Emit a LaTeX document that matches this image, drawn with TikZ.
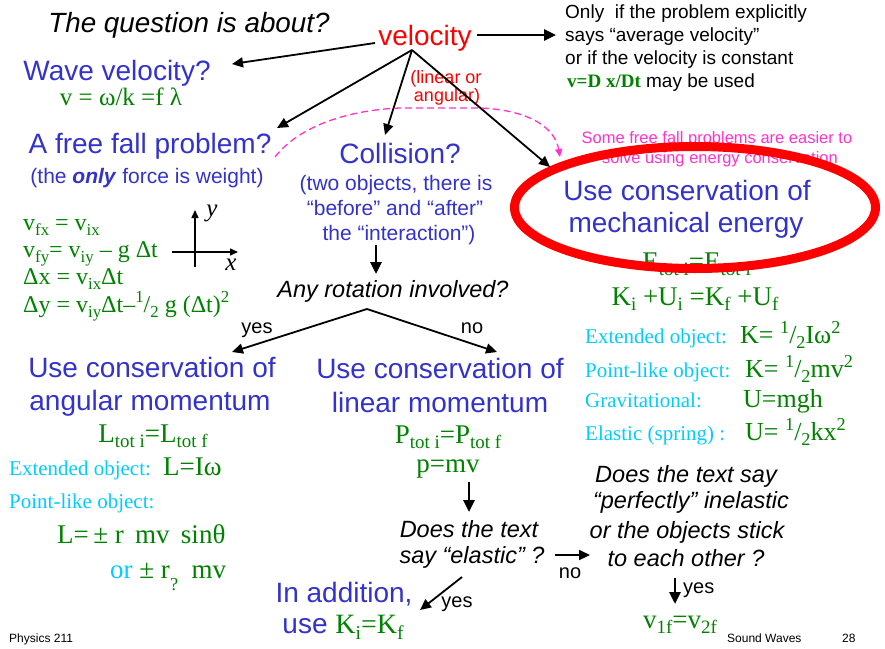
\documentclass[tikz,border=0pt]{standalone}
\usepackage{fontspec}
\setmainfont{Liberation Sans}
\newfontfamily\tnr{Liberation Serif}
\usetikzlibrary{arrows.meta,shapes.geometric}
\definecolor{tblue}{RGB}{51,51,204}
\definecolor{tgreen}{RGB}{0,130,0}
\definecolor{tcyan}{RGB}{0,204,255}
\definecolor{tmag}{RGB}{255,51,204}
\newcommand{\lo}[1]{\raisebox{-0.22em}{\scalebox{0.7}{#1}}}
\newcommand{\hi}[1]{\raisebox{0.38em}{\scalebox{0.7}{#1}}}
\newcommand{\dlo}[1]{\raisebox{-0.45em}{\scalebox{0.68}{#1}}}
\tikzset{
  fz/.style={inner sep=0, font=\fontsize{#1}{#1}\selectfont},
  hd/.style={inner sep=0, anchor=base, text=tblue, font=\fontsize{28}{28}\selectfont},
  qs/.style={inner sep=0, anchor=base, font=\fontsize{23.5}{23.5}\selectfont\itshape},
  frm/.style={inner sep=0, text=tgreen, font=\tnr\fontsize{#1}{#1}\selectfont},
  lab/.style={inner sep=0, text=tcyan, anchor=base west, font=\tnr\fontsize{21}{21}\selectfont},
  sm/.style={inner sep=0, anchor=base west, font=\fontsize{12}{12}\selectfont},
  arr/.style={-{Triangle[length=11pt,width=10pt]}, line width=1.8pt},
  tarr/.style={-{Triangle[length=12pt,width=11pt]}, line width=2.8pt},
  axarr/.style={-{Triangle[length=8pt,width=7pt]}, line width=1.5pt},
}
\begin{document}
\begin{tikzpicture}[x=1pt,y=-1pt]
\useasboundingbox (0,0) rectangle (885,648);
\fill[white] (0,0) rectangle (885,648);

% header
\node[inner sep=0, font=\fontsize{27.8}{27.8}\selectfont\itshape, anchor=base] (tq) at (189,32) {The question is about?};
\node[fz=28, text=red, anchor=base] (vel) at (425,45) {velocity};
\node[fz=19, anchor=base west] (n1) at (565,18.5) {Only\ \ if the problem explicitly};
\node[fz=19, anchor=base west] (n2) at (565,41.5) {says “average velocity”};
\node[fz=19, anchor=base west] (n3) at (565,64) {or if the velocity is constant};
\node[fz=19, anchor=base west] (n4) at (567,87) {{\tnr\bfseries\fontsize{19}{19}\selectfont\color{tgreen}v=D x/Dt} may be used};
\node[fz=18, text=red, anchor=base] (lin1) at (446,83) {(linear or};
\node[fz=18, text=red, anchor=base] (lin2) at (447,101) {angular)};

% wave velocity
\node[hd] (wv) at (117,80) {Wave velocity?};
\node[frm=25, anchor=base] (wvf) at (121,105) {v = ω/k =f λ};

% free fall
\node[hd] (ff) at (150,153) {A free fall problem?};
\node[fz=21, text=tblue, anchor=base] (ffs) at (147,183) {(the \textbf{\textit{only}} force is weight)};
\node[frm=24, anchor=base west] (f1) at (23,230) {v\lo{fx} = v\lo{ix}};
\node[frm=24, anchor=base west] (f2) at (23,257) {v\lo{fy}= v\lo{iy} – g Δt};
\node[frm=24, anchor=base west] (f3) at (23,284) {Δx = v\lo{ix}Δt};
\node[frm=24, anchor=base west] (f4) at (23,312) {Δy = v\lo{iy}Δt–\hi{1}/\lo{2} g (Δt)\hi{2}};
\coordinate (ay0) at (195,267);
\coordinate (ay1) at (195,210);
\coordinate (ax0) at (172,252);
\coordinate (ax1) at (238,252);
\draw[axarr] (ay0) -- (ay1);
\draw[axarr] (ax0) -- (ax1);
\node[inner sep=0, font=\tnr\itshape\fontsize{25}{25}\selectfont] (ly) at (212,213) {y};
\node[inner sep=0, font=\tnr\itshape\fontsize{25}{25}\selectfont] (lx) at (231,265) {x};

% collision
\node[hd] (col) at (400,163) {Collision?};
\node[fz=21, text=tblue, anchor=base] (c1) at (396,190) {(two objects, there is};
\node[fz=21, text=tblue, anchor=base] (c2) at (395,215) {“before” and “after”};
\node[fz=21, text=tblue, anchor=base] (c3) at (399,240) {the “interaction”)};
\node[qs] (rot) at (393,297) {Any rotation involved?};
\coordinate (c3b) at (376,245);
\coordinate (rott) at (376,274);
\draw[tarr] (c3b) -- (rott);
\coordinate (peak) at (367,309);
\coordinate (angtip) at (232,352);
\coordinate (lintip) at (497,352);
\draw[arr] (peak) -- (angtip);
\draw[arr] (peak) -- (lintip);
\node[fz=20, anchor=base] (yes1) at (257,333) {yes};
\node[fz=20, anchor=base] (no1) at (472,333) {no};

% angular momentum
\node[hd] (am1) at (152,377) {Use conservation of};
\node[hd] (am2) at (150,410) {angular momentum};
\node[frm=27, anchor=base] (amf) at (153,442) {L\lo{tot i}=L\lo{tot f}};
\node[lab] (ae) at (9,475) {Extended object:};
\node[frm=27, anchor=base west] (aef) at (163,475) {L=Iω};
\node[lab] (ap) at (9,508) {Point-like object:};
\node[frm=27, anchor=base west] (apf) at (57,543) {L=\,± r\, mv\, sinθ};
\node[frm=27, anchor=base west] (apf2) at (110,578) {{\color{tcyan}or} ± r\dlo{?}\ \ mv};

% linear momentum
\node[hd] (lm1) at (440,378) {Use conservation of};
\node[hd] (lm2) at (440,412) {linear momentum};
\node[frm=27, anchor=base] (lmf) at (448,443) {P\lo{tot i}=P\lo{tot f}};
\node[frm=27, anchor=base] (pmv) at (448,472) {p=mv};
\coordinate (pmvb) at (469,482);
\coordinate (elt) at (469,512);
\draw[tarr] (pmvb) -- (elt);
\node[qs] (el1) at (469,537) {Does the text};
\node[qs] (el2) at (472,563) {say “elastic” ?};
\coordinate (elr) at (555,555);
\coordinate (pil) at (590,555);
\draw[-{Triangle[length=11pt,width=10pt]}, line width=2.2pt] (elr) -- (pil);
\node[fz=20, anchor=base] (no2) at (570,578) {no};
\coordinate (elb) at (462,577);
\coordinate (iat) at (420,610);
\draw[arr] (elb) -- (iat);
\node[fz=20, anchor=base] (yes2) at (457,607) {yes};
\node[hd] (ia1) at (344,602) {In addition,};
\node[hd] (ia2) at (343,633) {use {\tnr\color{tgreen}K\lo{i}=K\lo{f}}};

% perfectly inelastic
\node[qs] (pi1) at (686,482) {Does the text say};
\node[qs] (pi2) at (691,508) {“perfectly” inelastic};
\node[qs] (pi3) at (687,538) {or the objects stick};
\node[qs] (pi4) at (686,566) {to each other ?};
\coordinate (pib) at (675,578);
\coordinate (vft) at (675,604);
\draw[tarr] (pib) -- (vft);
\node[fz=20, anchor=base west] (yes3) at (683,593) {yes};
\node[frm=27, anchor=base] (vf) at (680,628) {v\lo{1f}=v\lo{2f}};

% footer
\node[sm] (phys) at (9,642) {Physics 211};
\node[sm] (sw) at (727,642) {Sound Waves};
\node[sm] (pg) at (842,642) {28};

% mechanical energy
\node[fz=16.5, text=tmag, anchor=base] (sf1) at (717,143) {Some free fall problems are easier to};
\node[fz=16.5, text=tmag, anchor=base] (sf2) at (720,163) {solve using energy conservation};
\node[hd] (me1) at (687,200) {Use conservation of};
\node[hd] (me2) at (686,232) {mechanical energy};
\node[frm=27, anchor=base] (ef) at (697,270) {E\lo{tot i}=E\lo{tot f}};
\node[frm=27, anchor=base] (kf) at (695,305) {K\lo{i} +U\lo{i} =K\lo{f} +U\lo{f}};
\node[lab] (e1) at (585,343) {Extended object:};
\node[frm=26, anchor=base west] (e1f) at (740,343) {K= \hi{1}/\lo{2}Iω\hi{2}};
\node[lab] (e2) at (585,377) {Point-like object:};
\node[frm=26, anchor=base west] (e2f) at (745,377) {K= \hi{1}/\lo{2}mv\hi{2}};
\node[lab] (e3) at (585,407) {Gravitational:};
\node[frm=26, anchor=base west] (e3f) at (743,407) {U=mgh};
\node[lab] (e4) at (585,440) {Elastic (spring) :};
\node[frm=26, anchor=base west] (e4f) at (745,440) {U= \hi{1}/\lo{2}kx\hi{2}};

\node[draw=red, line width=9pt, ellipse, minimum width=361pt, minimum height=122pt, inner sep=0] (ell) at (695,207.5) {};

% arrows from velocity
\coordinate (apex) at (412,50);
\coordinate (vleft) at (375,43);
\coordinate (wvtip) at (232,64);
\coordinate (fftip) at (277,128);
\coordinate (coltip) at (385,135);
\coordinate (ellin) at (550,167);
\coordinate (vright) at (477,35);
\coordinate (notetip) at (556,35);
\draw[arr] (vleft) -- (wvtip);
\draw[arr] (apex) -- (fftip);
\draw[arr] (apex) -- (coltip);
\draw[arr] (apex) -- (ellin);
\draw[tarr] (vright) -- (notetip);

% magenta dashed hint
\coordinate (dstart) at (275,157);
\coordinate (dend) at (560,157);
\draw[tmag, line width=1.3pt, dash pattern=on 7pt off 4pt, -{Triangle[length=8pt,width=7pt]}]
  (dstart) .. controls (300,125) and (350,110) .. (400,108) -- (480,108)
  .. controls (530,110) and (555,128) .. (dend);
\end{tikzpicture}
\end{document}
